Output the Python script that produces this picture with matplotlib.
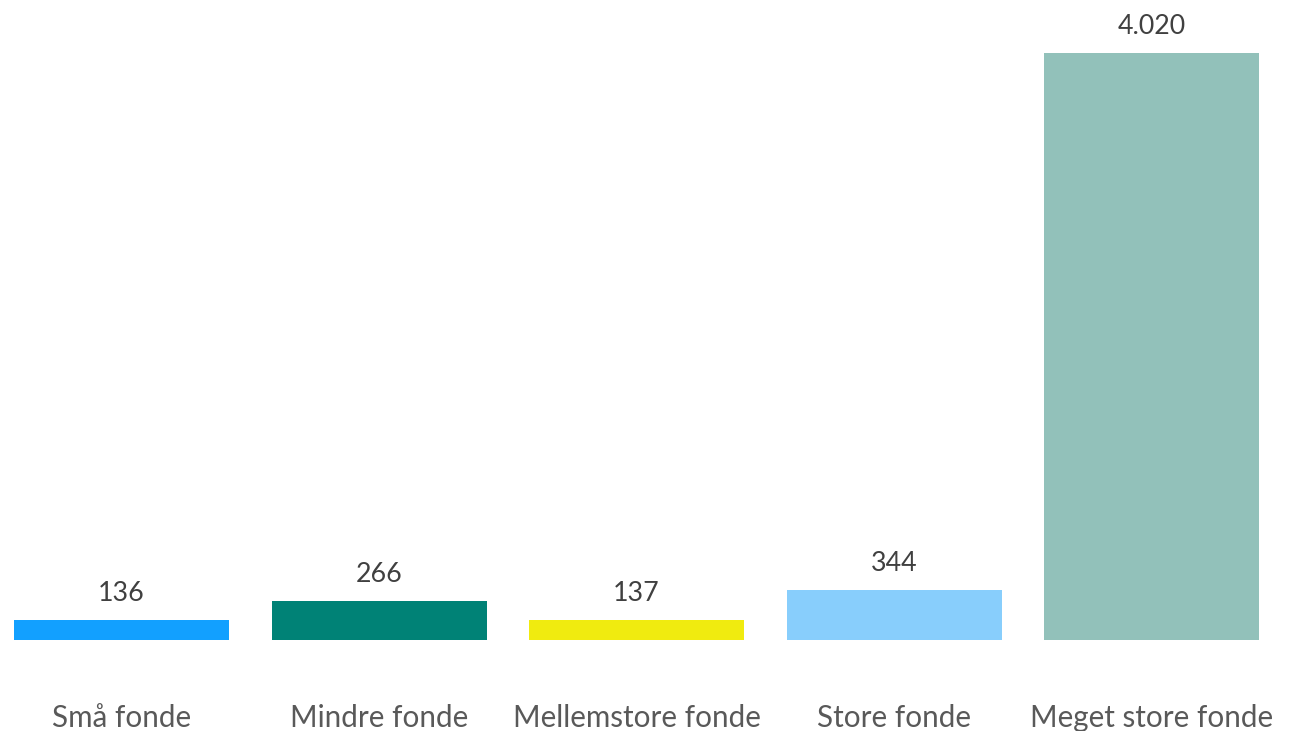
import matplotlib
matplotlib.use("Agg")
import matplotlib.pyplot as plt

categories = ["Små fonde", "Mindre fonde", "Mellemstore fonde", "Store fonde", "Meget store fonde"]
values = [136, 266, 137, 344, 4020]
colors = ["#12A0FF", "#008276", "#F0EB0F", "#88CEFC", "#92C1BA"]

plt.rcParams['font.family'] = ['Lato', 'DejaVu Sans']

fig = plt.figure(figsize=(12.94, 7.31), dpi=100)
ax = fig.add_axes([0, 0.1245, 1, 0.8755])

x = list(range(len(categories)))
bars = ax.bar(x, values, width=0.835, color=colors)

for xi, v in zip(x, values):
    label = "{:,}".format(v).replace(",", ".")
    ax.annotate(label, (xi, v), xytext=(0, 13.7), textcoords="offset points",
                ha="center", va="baseline", fontsize=19.3, color="#404040")

ax.set_xlim(-0.472, 4.553)
ax.set_ylim(0, 4383)
ax.set_xticks(x)
ax.set_xticklabels(categories, fontsize=21.3, color="#595959")
ax.tick_params(axis="x", length=0, pad=63)
for t in ax.get_xticklabels():
    t.set_va("baseline")
ax.set_yticks([])
for s in ax.spines.values():
    s.set_visible(False)

fig.savefig("out.png", dpi=100)
